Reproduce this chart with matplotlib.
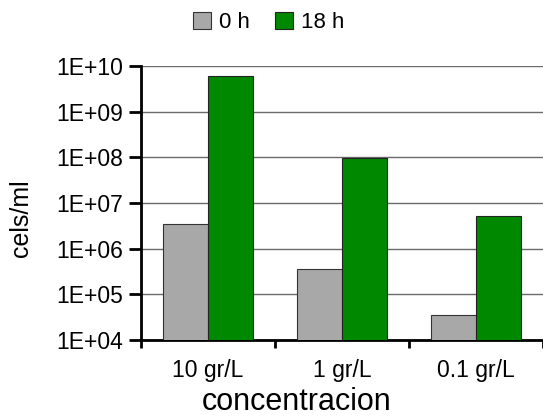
import numpy as np
import matplotlib.pyplot as plt
from matplotlib.ticker import FixedLocator, FuncFormatter, NullLocator

plt.rcParams['font.family'] = ['Liberation Sans', 'DejaVu Sans']

categories = ["10 gr/L", "1 gr/L", "0.1 gr/L"]
series_names = ["0 h", "18 h"]
vals_0h = [3.5e6, 3.6e5, 3.5e4]
vals_18h = [6.0e9, 9.7e7, 5.2e6]
colors = ["#a8a8a8", "#008800"]

fig = plt.figure(figsize=(5.43, 4.18), dpi=100)
ax = fig.add_axes([0.2597, 0.1866, 0.7403, 0.6555])

x = np.arange(len(categories))
w = 0.336
ax.bar(x - w / 2, vals_0h, w, color=colors[0], edgecolor="#333333", linewidth=0.8,
       label=series_names[0], zorder=3)
ax.bar(x + w / 2, vals_18h, w, color=colors[1], edgecolor="#222222", linewidth=0.8,
       label=series_names[1], zorder=3)

ax.set_yscale("log")
ax.set_ylim(1e4, 1e10)
ax.set_xlim(-0.5, len(categories) - 0.5)

# y ticks like "1E+06"
ax.yaxis.set_major_locator(FixedLocator([10.0 ** k for k in range(4, 11)]))
ax.yaxis.set_minor_locator(NullLocator())
ax.yaxis.set_major_formatter(FuncFormatter(lambda v, p: "1E+%02d" % round(np.log10(v))))
ax.grid(axis="y", color="#6a6a6a", linewidth=1.0, zorder=0)

# x ticks on category boundaries, labels on centres
ax.xaxis.set_major_locator(FixedLocator(np.arange(len(categories) + 1) - 0.5))
ax.xaxis.set_major_formatter(FuncFormatter(lambda v, p: ""))
ax.xaxis.set_minor_locator(FixedLocator(x))
ax.set_xticklabels(categories, minor=True)
ax.tick_params(axis="x", which="minor", length=0, pad=14, labelsize=16.5)
ax.tick_params(axis="x", which="major", length=6, width=2, direction="out")
ax.tick_params(axis="y", which="major", length=9, width=2, direction="out", labelsize=16.5, pad=4)

for s in ["top", "right"]:
    ax.spines[s].set_visible(False)
for s in ["left", "bottom"]:
    ax.spines[s].set_linewidth(2)

ax.set_ylabel("cels/ml", fontsize=18, va="center")
ax.yaxis.set_label_coords(-0.298, 0.445)
ax.set_xlabel("concentracion", fontsize=22, va="center")
ax.xaxis.set_label_coords(0.386, -0.226)

fig.legend(loc="upper center", bbox_to_anchor=(0.495, 1.02), ncol=2, frameon=False,
           fontsize=16, handlelength=0.8, handleheight=0.8, handletextpad=0.4,
           columnspacing=1.1)

fig.savefig("out.png", dpi=100)
